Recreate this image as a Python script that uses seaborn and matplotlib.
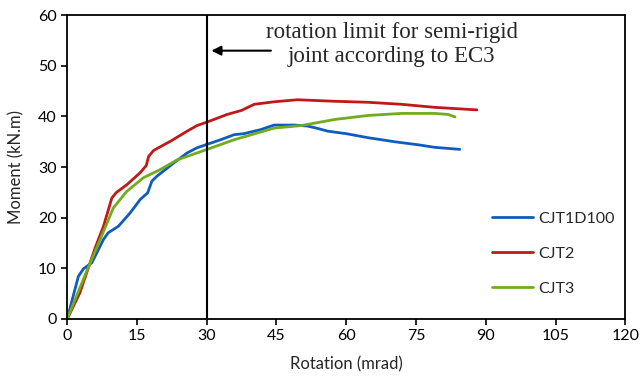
import numpy as np
import pandas as pd
import matplotlib
matplotlib.use("Agg")
import matplotlib.pyplot as plt
import seaborn as sns

# Moment-rotation curves
rot_cjt1 = [0, 2.4, 3.5, 5.3, 7.8, 8.8, 11.0, 13.5, 15.7, 17.3, 18.2, 19.3, 22.9, 25.8, 27.9,
            30.1, 33.0, 35.9, 38.0, 41.6, 44.5, 48.8, 51.7, 54.0, 56.0, 60.0, 64.7, 68.3,
            70.4, 75.5, 79.0, 84.4]
mom_cjt1 = [0, 8.4, 9.9, 11.1, 15.7, 17.0, 18.3, 20.9, 23.6, 24.9, 27.2, 28.2, 30.8, 32.8, 33.8,
            34.5, 35.4, 36.4, 36.6, 37.4, 38.3, 38.3, 38.1, 37.6, 37.1, 36.6, 35.8, 35.3,
            35.0, 34.4, 33.9, 33.5]

rot_cjt2 = [0, 2.7, 6.0, 7.8, 9.6, 10.6, 12.8, 15.7, 17.0, 17.5, 18.6, 22.2, 25.8, 27.9,
            30.1, 34.4, 37.5, 40.2, 44.5, 49.5, 57.5, 64.7, 71.9, 79.0, 88.1]
mom_cjt2 = [0, 5.1, 14.0, 18.3, 23.9, 25.0, 26.5, 28.9, 30.3, 32.1, 33.3, 35.1, 37.1, 38.2,
            38.9, 40.4, 41.2, 42.4, 42.9, 43.3, 43.0, 42.8, 42.4, 41.8, 41.3]

rot_cjt3 = [0, 4.0, 7.0, 8.5, 9.9, 12.8, 16.4, 20.0, 23.6, 30.1, 35.9, 44.5, 50.3, 57.5,
            64.7, 71.9, 79.0, 81.9, 83.4]
mom_cjt3 = [0, 9.0, 15.5, 18.8, 21.9, 25.2, 27.9, 29.5, 31.4, 33.5, 35.4, 37.7, 38.2, 39.4,
            40.2, 40.6, 40.6, 40.4, 39.9]

series = ["CJT1D100", "CJT2", "CJT3"]
colors = ["#0F5CBF", "#BF1A17", "#72AC1E"]
x_ticks = [0, 15, 30, 45, 60, 75, 90, 105, 120]
y_ticks = [0, 10, 20, 30, 40, 50, 60]
ec3_limit = 30

df = pd.concat([
    pd.DataFrame({"Rotation": rot_cjt1, "Moment": mom_cjt1, "Joint": series[0]}),
    pd.DataFrame({"Rotation": rot_cjt2, "Moment": mom_cjt2, "Joint": series[1]}),
    pd.DataFrame({"Rotation": rot_cjt3, "Moment": mom_cjt3, "Joint": series[2]}),
])

sns.set_style("white")
plt.rcParams['font.family'] = ['Lato', 'DejaVu Sans']

fig = plt.figure(figsize=(6.4, 3.81), dpi=100)
ax = fig.add_axes([0.105, 0.163, 0.872, 0.797])

sns.lineplot(data=df, x="Rotation", y="Moment", hue="Joint", palette=colors,
             sort=False, estimator=None, linewidth=2.0, ax=ax)

ax.axvline(ec3_limit, color="black", linewidth=1.5)
ax.annotate("", xy=(ec3_limit + 0.4, 53.0), xytext=(44.4, 53.0),
            arrowprops=dict(arrowstyle="-|>", color="black", lw=1.5, mutation_scale=14))
ax.text(69.8, 54.2, "rotation limit for semi-rigid\njoint according to EC3",
        ha="center", va="center", fontsize=16.5, family="Liberation Serif",
        linespacing=1.2)

ax.set_xlim(0, 120)
ax.set_ylim(0, 60)
ax.set_xticks(x_ticks)
ax.set_yticks(y_ticks)
ax.tick_params(axis="both", direction="out", length=4, width=1.2, labelsize=11.5,
               bottom=True, left=True, colors="black")
ax.set_xlabel("Rotation (mrad)", fontsize=12, labelpad=9)
ax.set_ylabel("Moment (kN.m)", fontsize=12, labelpad=10)
for s in ax.spines.values():
    s.set_color("black")
    s.set_linewidth(1.3)

ax.legend(loc="center left", bbox_to_anchor=(0.735, 0.215), frameon=False,
          fontsize=11.5, labelspacing=1.3, handlelength=2.6, handletextpad=0.3,
          title=None)

plt.savefig("out.png", dpi=100)
